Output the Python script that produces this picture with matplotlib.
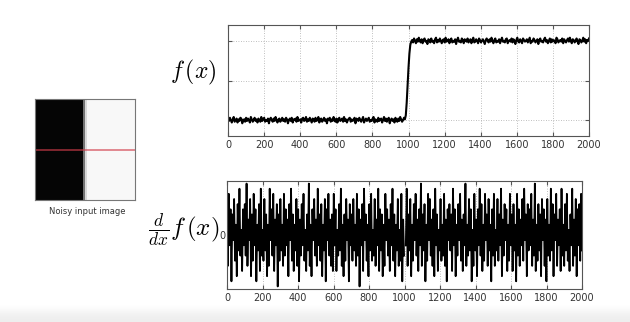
import numpy as np
import matplotlib
matplotlib.use("Agg")
import matplotlib.pyplot as plt

plt.rcParams["mathtext.fontset"] = "cm"

# f(x): noisy step (values in hundredths)
f_low = [2,-1,3,0,-3,1,4,-2,0,2,-3,1,-1,3,2,-4,0,1,-2,3,
         -1,2,0,-3,4,1,-2,0,3,-1,1,-3,2,0,-2,4,-1,1,3,-2,
         0,-1,2,-4,1,3,0,-2,2,-1,4,0,-3,1,2,-2,0,3,-1,1,
         -2,3,1,-4,0,2,-1,3,-3,1,0,2,-2,4,-1,0,1,-3,2,3,
         -1,0,4,-2,1,-1,3,0,-3,2,1,-2,3,-1,0,4,-3,1,2,-2,
         0,3,-1,1,-4,2,0,3,-2,1,-1,4,0,-2,2,-3,1,3,-1,0,
         2,-2,4,-1,1,-3,0,2,3,-2,1,-1,0,3,-4,2,1,-1,3,0,
         -2,1,4,-3,0,2,-1,1,3,-2,0,-1,2,4,-3,1,0,-2,3,-1,
         1,2,-3,0,4,-1,2,-2,1,3,-4,0,2,-1,1,-3,3,0,-2,2,
         -1,4,1,-2,0,3]
f_rise = [1, 6, 22, 45, 66, 84, 95, 99]
f_high = [101,98,103,100,97,102,99,104,100,98,102,97,101,103,99,100,96,102,101,98,
          103,99,100,97,102,104,98,101,99,103,100,97,101,102,98,104,99,100,102,97,
          101,103,98,100,99,102,96,101,104,99,100,98,103,101,97,102,100,99,103,98,
          100,102,97,101,104,98,99,102,100,97,103,101,98,100,102,99,96,101,103,100,
          98,102,99,104,100,97,101,103,98,100,99,102,97,101,104,99,100,98,102,103,
          97,100,101,99,103,98,102,100,96,101,104,99,98,102,100,97,103,101,99,100,
          102,98,101,104,97,100,99,103,101,98,100,102,96,101,103,99,100,98,102,104,
          99,101,97,100,103,98,102,99,101,100,97,104,102,98,100,101,99,103,97,102,
          100,98,101,103,99,104,100,97,102,101,98,100,103,99,96,102,101,98,100,104,
          99,102,97,101,100,103]
low_span = (0, 975)
rise_span = (980, 1015)
high_span = (1020, 2000)

# d/dx f(x)
nan = np.nan
df = [3,-6,8,-2,5,-9,4,-1,7,-5,2,-8,6,-3,9,-4,1,-7,5,-2,
      6,-4,10,-6,3,-1,7,-8,4,-5,8,-2,5,-9,2,-3,6,-7,9,-4,
      1,-5,7,-3,4,-8,2,-6,9,-1,5,-4,8,-7,3,-2,6,-10,4,-5,
      7,-3,2,-6,8,-4,5,-2,3,-8,6,-1,9,-5,4,-7,2,-3,7,-6,
      5,-9,3,-4,6,-2,8,-5,1,-7,4,-3,10,-6,2,-8,5,-1,7,-4,
      3,-6,9,-2,4,-5,6,-8,2,-3,7,-9,5,-1,8,-4,3,-6,4,-7,
      8,-2,5,-7,1,-4,6,-3,9,-6,2,-8,4,-5,7,-1,3,-9,6,-2,
      4,-5,7,-3,2,-6,8,-4,5,-10,3,-2,6,-7,9,-1,4,-5,2,-8,
      6,-3,8,-5,1,-4,7,-6,3,-2,9,-7,5,-3,4,-8,2,-6,8,-1,
      5,-4,3,-7,6,-2,9,-5,4,-8,2,-3,7,-6,1,-5,8,-9,3,-4,
      nan,-2,9,-6,4,-3,7,-8,2,-5,6,-1,8,-4,3,-7,5,-2,10,-6,
      4,-3,6,-9,2,-5,8,-1,7,-4,3,-6,5,-8,9,-2,4,-7,1,-3,
      7,-5,2,-4,8,-6,3,-9,5,-1,6,-3,4,-7,9,-2,5,-8,2,-4,
      6,-1,8,-5,3,-7,4,-2,10,-6,2,-4,7,-3,5,-9,1,-6,8,-3,
      3,-8,5,-2,9,-4,6,-7,2,-5,8,-1,4,-6,7,-3,2,-9,5,-4,
      8,-6,1,-3,7,-5,4,-2,9,-8,3,-4,6,-1,5,-7,2,-5,8,-2,
      4,-7,6,-3,2,-9,8,-4,5,-6,3,-2,7,-5,9,-1,4,-8,6,-3,
      5,-2,8,-6,3,-4,10,-7,2,-5,6,-3,4,-8,7,-1,5,-6,3,-9,
      7,-4,2,-5,9,-3,6,-8,4,-1,8,-6,3,-2,5,-7,9,-4,2,-6,
      6,-3,8,-5,1,-7,4,-2,9,-6,3,-4,7,-8,5,-2,6,-5,8,-3]

x_ticks = [0, 200, 400, 600, 800, 1000, 1200, 1400, 1600, 1800, 2000]

# noisy input image: column intensities, and the scan row
image_cols = [0.02] * 24 + [0.45, 0.85] + [0.97] * 24
image_rows = 40
scan_row = 19.5

bg_fade = [1.0, 0.985, 0.96, 0.94, 0.93]

f_vals = np.array(f_low + f_rise + f_high, dtype=float)
x_f = np.concatenate([np.linspace(*low_span, len(f_low)),
                      np.linspace(*rise_span, len(f_rise)),
                      np.linspace(*high_span, len(f_high))])
df_vals = np.array(df, dtype=float)
x_df = np.linspace(0, 2000, len(df_vals))

W, H = 630, 322
fig = plt.figure(figsize=(W / 100, H / 100), dpi=100)
fig.patch.set_facecolor("white")

def px_axes(x0, y0, x1, y1, **kw):
    return fig.add_axes([x0 / W, 1 - y1 / H, (x1 - x0) / W, (y1 - y0) / H], **kw)

# faded grey strip at the bottom of the screenshot
bg = px_axes(0, 302, W, H, zorder=-5)
bg.imshow(np.array(bg_fade)[:, None], cmap="gray", vmin=0, vmax=1,
          aspect="auto", interpolation="bilinear")
bg.axis("off")

# input image
ax_img = px_axes(35, 99, 135, 200)
img = np.tile(np.array(image_cols), (image_rows, 1))
ax_img.imshow(img, cmap="gray", vmin=0, vmax=1, aspect="auto", interpolation="nearest")
ax_img.axhline(scan_row, color="#d23c4a", alpha=0.6, lw=1.4)
ax_img.set_xticks([])
ax_img.set_yticks([])
for s in ax_img.spines.values():
    s.set_color("#777777")
    s.set_linewidth(0.8)
fig.text(87 / W, 1 - 212 / H, "Noisy input image", ha="center", va="center",
         fontsize=6, color="#333333", family="DejaVu Sans")

def style(ax):
    ax.set_xlim(0, 2000)
    ax.set_xticks(x_ticks)
    ax.grid(True, ls=(0, (1, 2)), color="#aaaaaa", lw=0.6)
    ax.set_axisbelow(True)
    ax.tick_params(direction="in", length=3, labelsize=7, labelcolor="#333333",
                   color="#555555", top=True, right=True, pad=3)
    for s in ax.spines.values():
        s.set_color("#555555")
        s.set_linewidth(0.8)

# top: f(x)
ax1 = px_axes(228, 25, 589, 136)
ax1.plot(x_f, f_vals, color="black", lw=1.5)
style(ax1)
ax1.set_ylim(-20, 120)
ax1.set_yticks([0, 50, 100])
ax1.set_yticklabels([])
fig.text(193 / W, 1 - 72 / H, r"$f\,(x)$", ha="center", va="center", fontsize=17)

# bottom: d/dx f(x)
ax2 = px_axes(227, 181, 582, 289)
ax2.plot(x_df, df_vals, color="black", lw=1.3)
style(ax2)
ax2.set_ylim(-10.5, 10.5)
ax2.set_yticks([0])
ax2.set_yticklabels(["0"])
ax2.tick_params(axis="y", length=0, pad=1)
ax2.grid(False, axis="y")
fig.text(184 / W, 1 - 230 / H, r"$\frac{d}{dx}f\,(x)$", ha="center", va="center",
         fontsize=18)

fig.savefig("out.png", dpi=100)
